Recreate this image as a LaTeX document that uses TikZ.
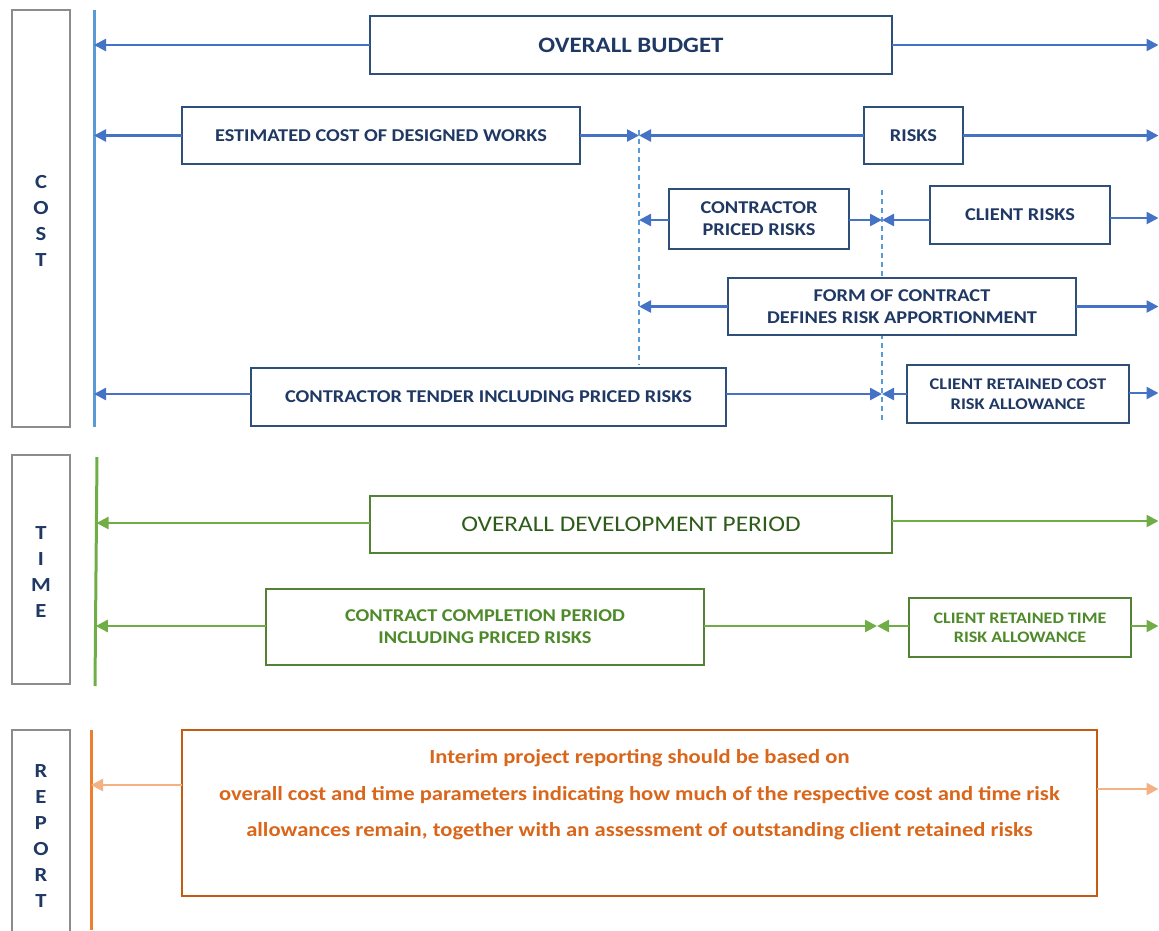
\documentclass[tikz,border=0pt]{standalone}
\usepackage{fontspec}
\setmainfont{Carlito}[FakeStretch=1.13]
\usetikzlibrary{arrows.meta}
\definecolor{navy}{HTML}{1F3864}
\definecolor{bbord}{HTML}{2E4F79}
\definecolor{barrow}{HTML}{4472C4}
\definecolor{bvline}{HTML}{5B9BD5}
\definecolor{gline}{HTML}{70AD47}
\definecolor{gbord}{HTML}{548235}
\definecolor{gtext}{HTML}{4E8A2A}
\definecolor{gdark}{HTML}{2F5C1A}
\definecolor{oline}{HTML}{ED7D31}
\definecolor{obord}{HTML}{C55A11}
\definecolor{otext}{HTML}{D9661A}
\definecolor{olight}{HTML}{F4B183}
\tikzset{
  every node/.style={inner sep=0pt, outer sep=0pt},
  lbox/.style={draw=gray!90, line width=1.5pt},
  ltext/.style={text=navy, font=\fontsize{20}{26}\selectfont\bfseries, align=center},
  cbox/.style={draw=bbord, line width=1.5pt, fill=white, text=navy, align=center, font=\fontsize{18}{22}\selectfont\bfseries},
  gbox/.style={draw=gbord, line width=1.5pt, fill=white, text=gtext, align=center, font=\fontsize{18}{22}\selectfont\bfseries},
  obox/.style={draw=obord, line width=1.5pt, fill=white},
  barr/.style={draw=barrow, line width=2.5pt, -{Triangle[length=12pt,width=12pt]}},
  garr/.style={draw=gline, line width=2.5pt, -{Triangle[length=12pt,width=12pt]}},
  oarr/.style={draw=olight, line width=2.5pt, -{Triangle[length=12pt,width=12pt]}},
  dline/.style={draw=bvline, line width=1.2pt, dash pattern=on 5pt off 4pt},
}
\begin{document}
\begin{tikzpicture}[x=1pt,y=-1pt]
\useasboundingbox (0,0) rectangle (1159,930);
% side label boxes
\node[lbox, minimum width=58pt, minimum height=417pt] (costbox) at (41,218.5) {};
\node[ltext] (costlbl) at (41,221) {C\\O\\S\\T};
\node[lbox, minimum width=58pt, minimum height=229pt] (timebox) at (41,569.5) {};
\node[ltext] (timelbl) at (41,572) {T\\I\\M\\E};
\node[lbox, minimum width=58pt, minimum height=210pt] (repbox) at (41,835) {};
\node[ltext] (replbl) at (41,836) {R\\E\\P\\O\\R\\T};
% vertical lines
\coordinate (cbt) at (94,10); \coordinate (cbb) at (94,427);
\draw[draw=bvline, line width=3pt] (cbt) -- (cbb);
\coordinate (tgt) at (97,457); \coordinate (tgb) at (95,686);
\draw[draw=gline, line width=3pt] (tgt) -- (tgb);
\coordinate (rot) at (91,730); \coordinate (rob) at (91,930);
\draw[draw=oline, line width=3pt] (rot) -- (rob);
% dashed lines
\coordinate (d1t) at (639,130); \coordinate (d1b) at (639,365);
\coordinate (d2t) at (882,190); \coordinate (d2b) at (882,420);
\draw[dline] (d1t) -- (d1b);
\draw[dline] (d2t) -- (d2b);
\coordinate (R) at (1158.5,0);
% COST boxes
\node[cbox, minimum width=522pt, minimum height=58pt, font=\fontsize{22}{26}\selectfont\bfseries] (budget) at (631,45) {OVERALL BUDGET};
\node[cbox, minimum width=398pt, minimum height=57pt] (est) at (381,135.5) {ESTIMATED COST OF DESIGNED WORKS};
\node[cbox, minimum width=99pt, minimum height=57pt] (risks) at (913.5,135.5) {RISKS};
\node[cbox, minimum width=180pt, minimum height=60pt] (cpr) at (759,219) {CONTRACTOR\\PRICED RISKS};
\node[cbox, minimum width=180pt, minimum height=58pt] (clr) at (1020,215) {CLIENT RISKS};
\node[cbox, minimum width=348pt, minimum height=57pt] (form) at (902,306.5) {FORM OF CONTRACT\\DEFINES RISK APPORTIONMENT};
\node[cbox, minimum width=475pt, minimum height=58pt] (tender) at (488.5,397) {CONTRACTOR TENDER INCLUDING PRICED RISKS};
\node[cbox, minimum width=222pt, minimum height=58pt, font=\fontsize{16.3}{20}\selectfont\bfseries] (crc) at (1018,394) {CLIENT RETAINED COST\\RISK ALLOWANCE};
% COST arrows
\draw[barr] (budget.west) -- (budget.west -| cbt);
\draw[barr] (budget.east) -- (budget.east -| R);
\draw[barr] (est.west) -- (est.west -| cbt);
\draw[barr] (est.east) -- (est.east -| d1t);
\draw[barr] (risks.west) -- (risks.west -| d1t);
\draw[barr] (risks.east) -- (risks.east -| R);
\coordinate (cprw) at (669,220); \coordinate (cpre) at (849,220);
\coordinate (clrw) at (930,220); \coordinate (clre) at (1110,218);
\draw[barr] (cprw) -- (cprw -| d1t);
\draw[barr] (cpre) -- (cpre -| d2t);
\draw[barr] (clrw) -- (clrw -| d2t);
\draw[barr] (clre) -- (clre -| R);
\draw[barr] (form.west) -- (form.west -| d1t);
\draw[barr] (form.east) -- (form.east -| R);
\coordinate (tw) at (251,394); \coordinate (te) at (726,394);
\draw[barr] (tw) -- (tw -| cbt);
\draw[barr] (te) -- (te -| d2t);
\coordinate (crcw) at (907,394); \coordinate (crce) at (1129,393);
\draw[barr] (crcw) -- (crcw -| d2t);
\draw[barr] (crce) -- (crce -| R);
% TIME boxes
\node[gbox, minimum width=522pt, minimum height=57pt, text=gdark, font=\fontsize{22.4}{26}\selectfont] (odp) at (631,524.5) {OVERALL DEVELOPMENT PERIOD};
\node[gbox, minimum width=438pt, minimum height=76pt] (ccp) at (485,627) {CONTRACT COMPLETION PERIOD\\INCLUDING PRICED RISKS};
\node[gbox, minimum width=222pt, minimum height=59pt, font=\fontsize{16}{19}\selectfont\bfseries] (crt) at (1020,627.5) {CLIENT RETAINED TIME\\RISK ALLOWANCE};
\coordinate (meet) at (877,626);
\coordinate (odpw) at (370,523); \coordinate (odpe) at (892,521);
\draw[garr] (odpw) -- (96.5,523);
\draw[garr] (odpe) -- (odpe -| R);
\coordinate (ccpw) at (266,626);
\draw[garr] (ccpw) -- (95.8,626);
\draw[garr] (ccp.east |- meet) -- (meet);
\draw[garr] (crt.west |- meet) -- (meet);
\draw[garr] (crt.east |- meet) -- (meet -| R);
% REPORT
\node[obox, minimum width=915pt, minimum height=166pt] (rep) at (639.5,813) {};
\node[text=otext, font=\fontsize{20}{36.5}\selectfont\bfseries, align=center] (reptext) at (639.5,795) {Interim project reporting should be based on\\overall cost and time parameters indicating how much of the respective cost and time risk\\allowances remain, together with an assessment of outstanding client retained risks};
\coordinate (repw) at (182,785); \coordinate (repe) at (1097,789);
\draw[oarr] (repw) -- (repw -| rot);
\draw[oarr] (repe) -- (repe -| R);
\end{tikzpicture}
\end{document}
